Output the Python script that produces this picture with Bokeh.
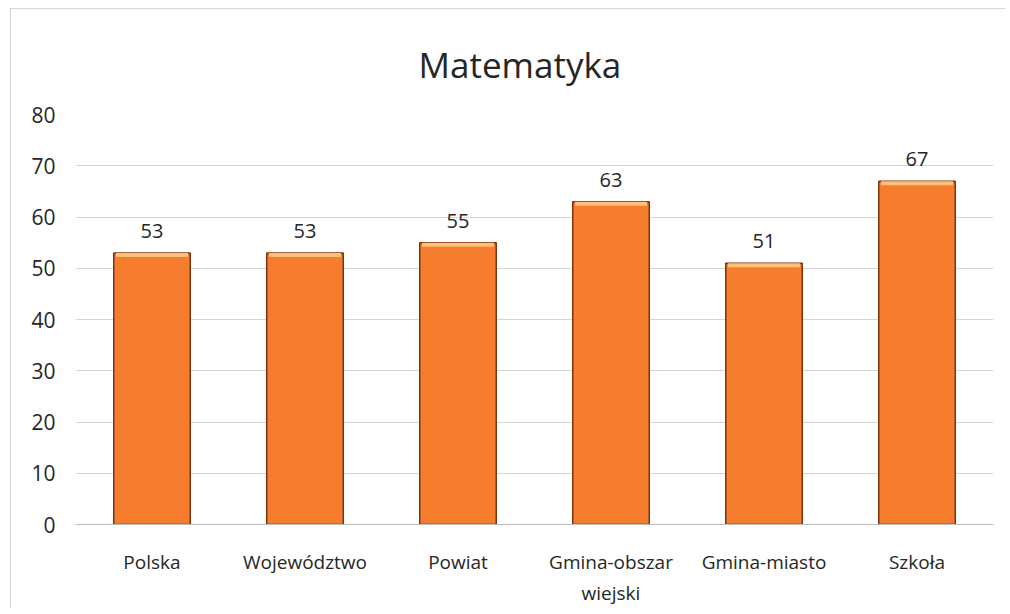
from bokeh.plotting import figure
from bokeh.models import ColumnDataSource, Range1d, FactorRange, Title, SingleIntervalTicker
from bokeh.core.properties import value
from bokeh.embed import file_html
from bokeh.resources import INLINE

categories = ["Polska", "Województwo", "Powiat", "Gmina-obszar\nwiejski", "Gmina-miasto", "Szkoła"]
scores = [53, 53, 55, 63, 51, 67]
title_text = "Matematyka"

FONT = "Open Sans"
TXT = "#262626"

src = ColumnDataSource(dict(
    cat=categories,
    val=scores,
    lbl=[str(v) for v in scores],
    hl=[v - 0.8 for v in scores],
))

p = figure(
    width=995, height=600,
    x_range=FactorRange(*categories, range_padding=0),
    y_range=Range1d(0, 80),
    output_backend="svg", toolbar_location=None,
    min_border_left=65, min_border_right=12,
    min_border_top=106, min_border_bottom=84,
)
p.margin = (8, 0, 0, 10)
p.title = Title(text=title_text, align="left", text_font=FONT,
                text_font_size="35px", text_font_style="normal",
                text_color=TXT, standoff=53, offset=343)
p.styles = {"outline": "1px solid #c8c8c8", "outline-offset": "-1px"}

p.vbar(x="cat", top="val", bottom=0, width=0.5, source=src,
       fill_color="#F77D2E", line_color="#7A3510", line_width=1.5)
p.vbar(x="cat", top="val", bottom="hl", width=0.47, source=src,
       fill_color="#FDC07A", line_color=None)

p.text(x="cat", y="val", text="lbl", source=src, text_align="center",
       text_baseline="bottom", y_offset=-15, text_font=value(FONT),
       text_font_size="20px", text_color=TXT)

p.outline_line_color = None
p.xgrid.grid_line_color = None
p.ygrid.grid_line_color = "#d4d4d4"
p.ygrid.grid_line_width = 1
p.yaxis.ticker = SingleIntervalTicker(interval=10)
p.yaxis.axis_line_color = None
p.yaxis.major_tick_line_color = None
p.yaxis.minor_tick_line_color = None
p.yaxis.major_label_text_font = FONT
p.yaxis.major_label_text_font_size = "21px"
p.yaxis.major_label_text_color = TXT
p.yaxis.major_label_standoff = 14

p.xaxis.axis_line_color = "#bdbdbd"
p.xaxis.major_tick_line_color = None
p.xaxis.minor_tick_line_color = None
p.xaxis.major_label_text_font = FONT
p.xaxis.major_label_text_font_size = "19px"
p.xaxis.major_label_text_color = TXT
p.xaxis.major_label_standoff = 18

open("out.html", "w").write(file_html(p, INLINE))
